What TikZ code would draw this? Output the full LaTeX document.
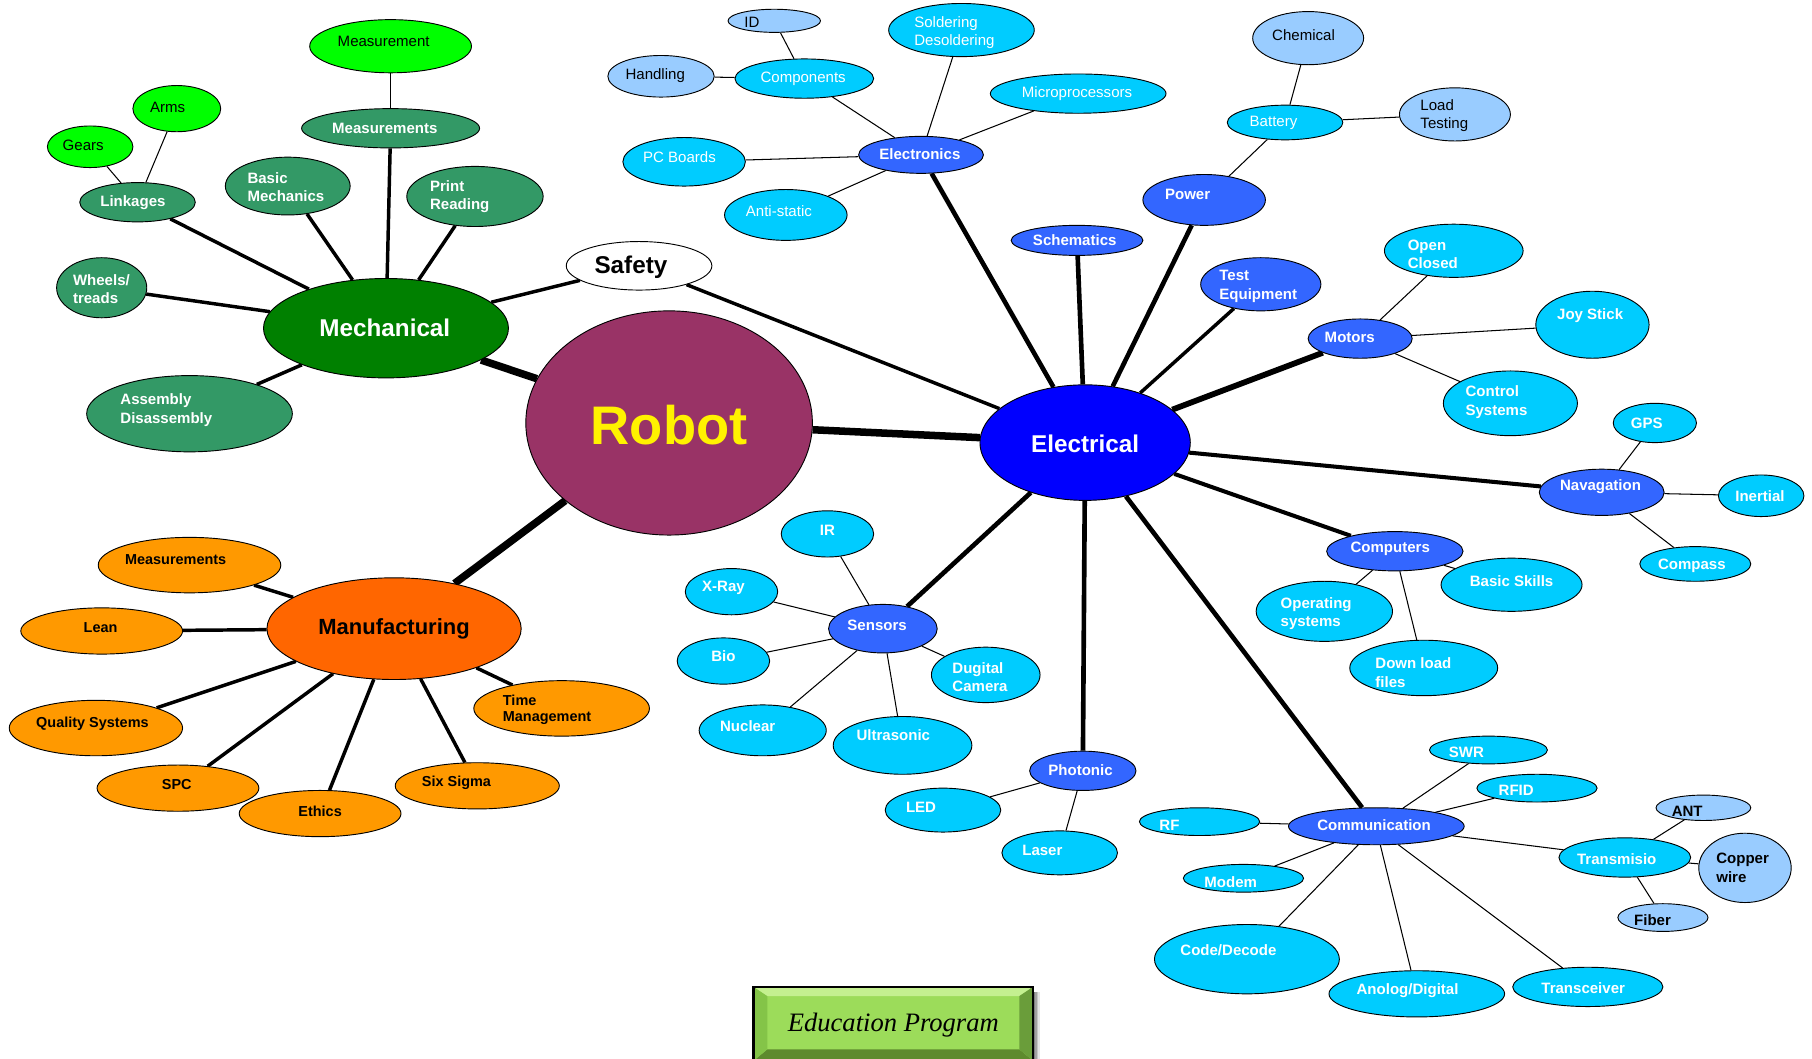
\documentclass[tikz,border=0pt]{standalone}
\usepackage{fontspec}
\setmainfont{Liberation Sans}
\newfontfamily\edufont{Liberation Serif}
\usetikzlibrary{shapes.geometric}
\pgfdeclarelayer{bg}
\pgfsetlayers{bg,main}
\definecolor{robotc}{HTML}{993366}
\definecolor{mechc}{HTML}{008000}
\definecolor{seag}{HTML}{339966}
\definecolor{limec}{HTML}{00FF00}
\definecolor{elecc}{HTML}{0000FF}
\definecolor{blueb}{HTML}{3366FF}
\definecolor{cyanc}{HTML}{00CCFF}
\definecolor{lblue}{HTML}{99CCFF}
\definecolor{orA}{HTML}{FF6600}
\definecolor{orB}{HTML}{FF9900}
\definecolor{eduface}{HTML}{9CDC5A}
\definecolor{edutop}{HTML}{C4F090}
\definecolor{edubot}{HTML}{5E8A2E}
\definecolor{eduside}{HTML}{84C448}
\newcommand{\bb}[5]{\node[ell,#2,minimum width=#4,minimum height=#5] (#1) at (#3) {};}
\newcommand{\tx}[3]{\node[#1] at (#2) {#3};}
\begin{document}
\begin{tikzpicture}[x=1pt,y=-1pt,
  ell/.style={ellipse, draw=black, line width=0.8pt, inner sep=0pt},
  fR/.style={fill=robotc}, fM/.style={fill=mechc}, fS/.style={fill=seag},
  fL/.style={fill=limec}, fE/.style={fill=elecc}, fB/.style={fill=blueb},
  fC/.style={fill=cyanc}, fLB/.style={fill=lblue}, fO/.style={fill=orA},
  fO2/.style={fill=orB}, fW/.style={fill=white},
  tw/.style={inner sep=0pt, align=left, text=white, font=\fontsize{13}{16}\selectfont},
  twb/.style={inner sep=0pt, align=left, text=white, font=\fontsize{13}{16}\selectfont\bfseries},
  tk/.style={inner sep=0pt, align=left, text=black, font=\fontsize{13}{16}\selectfont},
  tkb/.style={inner sep=0pt, align=left, text=black, font=\fontsize{13}{16}\selectfont\bfseries},
  tkm/.style={inner sep=0pt, align=left, text=black, font=\fontsize{12.5}{14}\selectfont\bfseries},
  e6/.style={line width=6.5pt}, e5/.style={line width=5pt}, e4/.style={line width=4pt},
  e3/.style={line width=3pt}, e1/.style={line width=0.9pt},
  lw/.style={anchor=west}
]
\useasboundingbox (0,0) rectangle (1568,916);
% ---------- central and mechanical ----------
\bb{robot}{fR}{579,366}{248}{194}
\bb{mech}{fM}{334,284}{212}{86}
\bb{safety}{fW}{553,230}{126}{42}
\bb{measA}{fL}{338,40}{140}{46}
\bb{arms}{fL}{153,94}{76}{40}
\bb{gears}{fL}{78,127}{74}{36}
\bb{meas}{fS}{338,111}{154}{34}
\bb{link}{fS}{119,175}{100}{34}
\bb{basic}{fS}{249,161}{108}{50}
\bb{print}{fS}{411,170}{118}{52}
\bb{wheels}{fS}{88,249}{78}{52}
\bb{assem}{fS}{164,358}{178}{66}
% ---------- electrical ----------
\bb{elec}{fE}{939,383}{182}{100}
\bb{electronics}{fB}{797,134}{108}{32}
\bb{components}{fC}{696,68}{120}{34}
\bb{id}{fLB}{670,18}{80}{20}
\bb{handling}{fLB}{572,66}{92}{36}
\bb{solder}{fC}{832,26}{126}{46}
\bb{micro}{fC}{933,81}{152}{34}
\bb{pcb}{fC}{592,140}{106}{42}
\bb{anti}{fC}{680,186}{106}{44}
\bb{schem}{fB}{932,208}{114}{26}
\bb{power}{fB}{1042,173}{106}{44}
\bb{battery}{fC}{1112,106}{100}{30}
\bb{chem}{fLB}{1132,33}{96}{46}
\bb{load}{fLB}{1259,99}{96}{46}
\bb{test}{fB}{1091,246}{104}{46}
\bb{motors}{fB}{1177,293}{90}{34}
\bb{open}{fC}{1258,217}{120}{46}
\bb{joy}{fC}{1378,281}{98}{58}
\bb{control}{fC}{1307,349}{116}{56}
\bb{nav}{fB}{1386,426}{108}{40}
\bb{gps}{fC}{1432,366}{72}{34}
\bb{inertial}{fC}{1524,429}{74}{36}
\bb{compass}{fC}{1467,488}{96}{30}
\bb{comp}{fB}{1207,477}{118}{34}
\bb{skills}{fC}{1308,506}{122}{46}
\bb{os}{fC}{1146,529}{118}{52}
\bb{dl}{fC}{1232,578}{128}{48}
\bb{sensors}{fB}{764,544}{94}{42}
\bb{ir}{fC}{716,462}{80}{40}
\bb{xray}{fC}{633,512}{80}{40}
\bb{bio}{fC}{626,572}{80}{40}
\bb{cam}{fC}{853,584}{94}{48}
\bb{nuclear}{fC}{660,632}{110}{44}
\bb{ultra}{fC}{781,645}{120}{50}
\bb{photonic}{fB}{937,667}{92}{34}
\bb{led}{fC}{816,701}{100}{38}
\bb{laser}{fC}{917,738}{100}{38}
\bb{commn}{fB}{1191,715}{152}{32}
\bb{rf}{fC}{1038,711}{104}{24}
\bb{modem}{fC}{1076,760}{104}{24}
\bb{swr}{fC}{1288,649}{102}{24}
\bb{rfid}{fC}{1330,682}{104}{24}
\bb{trans}{fC}{1406,742}{114}{34}
\bb{ant}{fLB}{1474,699}{82}{22}
\bb{copper}{fLB}{1510,751}{80}{60}
\bb{fiber}{fLB}{1439,794}{78}{24}
\bb{code}{fC}{1079,830}{160}{60}
\bb{analog}{fC}{1226,860}{152}{40}
\bb{transc}{fC}{1374,854}{130}{34}
% ---------- manufacturing ----------
\bb{manu}{fO}{341,544}{220}{88}
\bb{meas2}{fO2}{164,489}{158}{48}
\bb{lean}{fO2}{88,546}{140}{40}
\bb{quality}{fO2}{83,630}{150}{48}
\bb{spc}{fO2}{154,682}{140}{40}
\bb{ethics}{fO2}{277,704}{140}{40}
\bb{six}{fO2}{413,680}{142}{40}
\bb{time}{fO2}{486,613}{152}{48}
% ---------- texts ----------
\node[inner sep=0pt, text=yellow, font=\fontsize{47}{50}\selectfont\bfseries] at (579,368) {Robot};
\node[inner sep=0pt, text=white, font=\fontsize{21}{24}\selectfont\bfseries] at (333,284) {Mechanical};
\node[inner sep=0pt, text=white, font=\fontsize{21}{24}\selectfont\bfseries] at (939,384) {Electrical};
\node[inner sep=0pt, text=black, font=\fontsize{21}{24}\selectfont\bfseries] at (546,231) {Safety};
\node[inner sep=0pt, text=black, font=\fontsize{19}{22}\selectfont\bfseries] at (341,544) {Manufacturing};
\tx{tk}{332,36}{Measurement}
\tx{tk}{145,93}{Arms}
\tx{tk}{72,126}{Gears}
\tx{twb}{333,111}{Measurements}
\tx{twb}{115,175}{Linkages}
\tx{twb,lw}{214,162}{Basic\\Mechanics}
\tx{twb,lw}{372,170}{Print\\Reading}
\tx{twb,lw}{63,250}{Wheels/\\treads}
\tx{twb,lw}{104,355}{Assembly\\Disassembly}
% electrical texts
\tx{twb}{796,133}{Electronics}
\tx{tw}{695,68}{Components}
\tx{tk,lw}{644,19}{ID}
\tx{tk}{567,65}{Handling}
\tx{tw,lw}{791,28}{Soldering\\Desoldering}
\tx{tw}{932,81}{Microprocessors}
\tx{tw}{588,136}{PC Boards}
\tx{tw}{674,183}{Anti-static}
\tx{twb}{930,208}{Schematics}
\tx{twb,lw}{1008,168}{Power}
\tx{tw}{1102,106}{Battery}
\tx{tk}{1128,30}{Chemical}
\tx{tk,lw}{1229,100}{Load\\Testing}
\tx{twb,lw}{1055,248}{Test\\Equipment}
\tx{twb}{1168,292}{Motors}
\tx{twb,lw}{1218,220}{Open\\Closed}
\tx{twb}{1376,273}{Joy Stick}
\tx{twb,lw}{1268,348}{Control\\Systems}
\tx{twb}{1385,421}{Navagation}
\tx{twb}{1425,366}{GPS}
\tx{twb}{1523,429}{Inertial}
\tx{twb}{1464,490}{Compass}
\tx{twb}{1203,475}{Computers}
\tx{twb}{1308,503}{Basic Skills}
\tx{twb,lw}{1108,531}{Operating\\systems}
\tx{twb,lw}{1190,582}{Down load\\files}
\tx{twb}{759,541}{Sensors}
\tx{twb}{716,459}{IR}
\tx{twb}{626,509}{X-Ray}
\tx{twb}{626,568}{Bio}
\tx{twb,lw}{824,586}{Dugital\\Camera}
\tx{twb}{647,628}{Nuclear}
\tx{twb}{773,636}{Ultrasonic}
\tx{twb}{935,666}{Photonic}
\tx{twb}{797,699}{LED}
\tx{twb}{902,736}{Laser}
\tx{twb}{1189,714}{Communication}
\tx{twb}{1012,714}{RF}
\tx{twb}{1065,763}{Modem}
\tx{twb}{1269,651}{SWR}
\tx{twb}{1312,684}{RFID}
\tx{twb}{1399,743}{Transmisio}
\tx{tkb}{1460,702}{ANT}
\tx{tkb,lw}{1485,751}{Copper\\wire}
\tx{tkb}{1430,796}{Fiber}
\tx{twb}{1063,822}{Code/Decode}
\tx{twb}{1218,857}{Anolog/Digital}
\tx{twb}{1370,855}{Transceiver}
% manufacturing texts
\tx{tkm}{152,484}{Measurements}
\tx{tkm}{87,543}{Lean}
\tx{tkm}{80,626}{Quality Systems}
\tx{tkm}{153,679}{SPC}
\tx{tkm}{277,702}{Ethics}
\tx{tkm}{395,677}{Six Sigma}
\tx{tkm,lw}{435,614}{Time\\Management}
% ---------- connectors ----------
\begin{pgfonlayer}{bg}
\draw[e6] (robot) -- (mech);
\draw[e6] (robot) -- (elec);
\draw[e6] (robot) -- (manu);
\draw[e3] (safety) -- (mech);
\draw[e3] (safety) -- (elec);
\foreach \n in {link,basic,meas,print,wheels,assem} \draw[e3] (mech) -- (\n);
\draw[e1] (meas) -- (measA);
\draw[e1] (link) -- (gears);
\draw[e1] (link) -- (arms);
\foreach \n/\w in {electronics/4,schem/4,power/4,test/3,motors/5,nav/3.5,comp/3.5,sensors/4,photonic/4,commn/4}
  \draw[line width=\w pt] (elec) -- (\n);
\foreach \n in {components,solder,micro,pcb,anti} \draw[e1] (electronics) -- (\n);
\draw[e1] (components) -- (id);
\draw[e1] (components) -- (handling);
\draw[e1] (power) -- (battery);
\draw[e1] (battery) -- (chem);
\draw[e1] (battery) -- (load);
\foreach \n in {open,joy,control} \draw[e1] (motors) -- (\n);
\foreach \n in {gps,inertial,compass} \draw[e1] (nav) -- (\n);
\foreach \n in {skills,os,dl} \draw[e1] (comp) -- (\n);
\foreach \n in {ir,xray,bio,cam,nuclear,ultra} \draw[e1] (sensors) -- (\n);
\draw[e1] (photonic) -- (led);
\draw[e1] (photonic) -- (laser);
\foreach \n in {rf,modem,swr,rfid,trans,code} \draw[e1] (commn) -- (\n);
\draw[e1] (commn.-78) -- (analog);
\draw[e1] (commn.-40) -- (transc);
\foreach \n in {ant,copper,fiber} \draw[e1] (trans) -- (\n);
\foreach \n in {meas2,lean,quality,spc,ethics,six,time} \draw[e3] (manu) -- (\n);
\end{pgfonlayer}
% ---------- education program box ----------
\foreach \d/\o in {7/0.10,5.5/0.14,4/0.18,2.5/0.22}
  \fill[black, opacity=\o] (660,858) rectangle (893+\d,916);
\node[draw=black, line width=2pt, fill=eduface, minimum width=240pt, minimum height=62pt, inner sep=0pt] (edu) at (773,886) {};
\fill[edutop] (edu.north west) -- (edu.north east) -- ([shift={(-12,8)}]edu.north east) -- ([shift={(12,8)}]edu.north west) -- cycle;
\fill[edubot] (edu.south west) -- (edu.south east) -- ([shift={(-12,-10)}]edu.south east) -- ([shift={(12,-10)}]edu.south west) -- cycle;
\fill[eduside] (edu.north west) -- ([shift={(12,8)}]edu.north west) -- ([shift={(12,-10)}]edu.south west) -- (edu.south west) -- cycle;
\fill[eduside!80!black] (edu.north east) -- ([shift={(-12,8)}]edu.north east) -- ([shift={(-12,-10)}]edu.south east) -- (edu.south east) -- cycle;
\draw[black, line width=2pt] (edu.north west) rectangle (edu.south east);
\node[inner sep=0pt, font=\edufont\itshape\fontsize{23}{27}\selectfont] at (773,887) {Education Program};
\end{tikzpicture}
\end{document}
